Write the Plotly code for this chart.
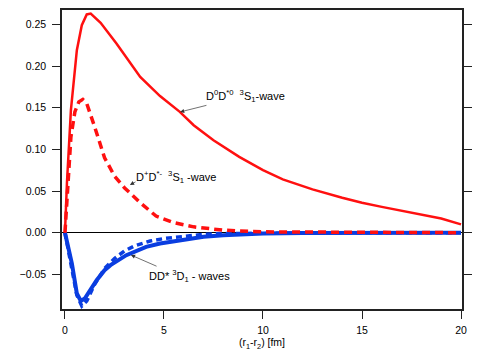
import plotly.graph_objects as go

# D0 D*0 3S1-wave (red solid)
r_s0 = [0, 0.1, 0.3, 0.6, 0.85, 1.1, 1.3, 1.8, 2.6, 3.8, 4.8, 5.8, 6.5, 7.5, 8.8,
        10, 11, 12.5, 14, 15, 16, 17.5, 19, 20]
psi_s0 = [0, 0.06, 0.147, 0.219, 0.249, 0.262, 0.263, 0.252, 0.227, 0.187, 0.164,
          0.145, 0.129, 0.111, 0.091, 0.075, 0.064, 0.052, 0.042, 0.036, 0.031,
          0.024, 0.017, 0.010]

# D+ D*- 3S1-wave (red dashed)
r_sc = [0, 0.15, 0.3, 0.5, 0.7, 0.9, 1.1, 1.5, 2.0, 2.5, 3.0, 3.8, 4.6, 5.5, 6.5,
        8, 10, 20]
psi_sc = [0, 0.06, 0.115, 0.145, 0.157, 0.160, 0.155, 0.127, 0.090, 0.068, 0.054,
          0.036, 0.020, 0.012, 0.007, 0.003, 0.001, 0]

# DD* 3D1 waves (blue solid / blue dashed)
r_d0 = [0, 0.2, 0.35, 0.6, 0.8, 1.0, 1.3, 1.6, 2.0, 2.3, 3.1, 4.1, 4.8, 6, 7, 8,
        10, 12, 15, 20]
psi_d0 = [0, -0.022, -0.037, -0.073, -0.082, -0.079, -0.068, -0.057, -0.045,
          -0.039, -0.027, -0.017, -0.013, -0.008, -0.005, -0.003, -0.001, -0.0005,
          0, 0]
r_dc = [0, 0.2, 0.4, 0.6, 0.85, 1.1, 1.5, 2.0, 2.5, 3.0, 3.5, 4.3, 5, 6, 7, 8, 10,
        12, 15, 20]
psi_dc = [0, -0.025, -0.052, -0.075, -0.088, -0.082, -0.062, -0.043, -0.031,
          -0.022, -0.016, -0.010, -0.007, -0.004, -0.002, -0.001, -0.0005, 0, 0, 0]

x_ticks = [0, 5, 10, 15, 20]
y_ticks = [-0.05, 0.0, 0.05, 0.10, 0.15, 0.20, 0.25]

RED = '#ff1010'
BLUE = '#0a3de0'
FONT = 'Liberation Sans, Arial, sans-serif'

fig = go.Figure()
fig.add_scatter(x=r_d0, y=psi_d0, mode='lines',
                line=dict(color=BLUE, width=4))
fig.add_scatter(x=r_dc, y=psi_dc, mode='lines',
                line=dict(color=BLUE, width=3.5, dash='6px,4px'))
fig.add_scatter(x=r_s0, y=psi_s0, mode='lines',
                line=dict(color=RED, width=2.5))
fig.add_scatter(x=r_sc, y=psi_sc, mode='lines',
                line=dict(color=RED, width=3.5, dash='8px,5px'))

# labels
labels = [
    (7.0, 0.164, 'D<sup>0</sup>D<sup>*0</sup>  <sup>3</sup>S<sub>1</sub>-wave'),
    (3.5, 0.0669, 'D<sup>+</sup>D<sup>*-</sup>  <sup>3</sup>S<sub>1</sub> -wave'),
    (4.15, -0.052, 'DD* <sup>3</sup>D<sub>1</sub> - waves'),
]
for lx, ly, txt in labels:
    fig.add_annotation(x=lx, y=ly, text=txt, showarrow=False,
                       xanchor='left', yanchor='middle',
                       font=dict(size=11, color='black', family=FONT))

# arrows (head, tail)
arrows = [
    ((5.81, 0.1449), (7.22, 0.1533)),
    ((3.28, 0.0573), (3.64, 0.0620)),
    ((3.33, -0.0268), (4.70, -0.0410)),
]
for (hx, hy), (tx, ty) in arrows:
    fig.add_annotation(x=hx, y=hy, ax=tx, ay=ty, axref='x', ayref='y',
                       text='', showarrow=True, arrowhead=2, arrowsize=1.2,
                       arrowwidth=0.7, arrowcolor='#333333')

axis_common = dict(showline=True, linecolor='#222222', linewidth=1.5,
                   mirror='allticks', ticks='outside', ticklen=8,
                   tickcolor='#222222', tickwidth=1.2, showgrid=False,
                   automargin=False,
                   tickfont=dict(size=10.5, color='black', family=FONT))

# page body adds an 8px offset (left/top), so the figure is sized 8px smaller
fig.update_layout(
    width=480, height=343,
    margin=dict(l=54, r=26, t=2, b=42),
    plot_bgcolor='white', paper_bgcolor='white',
    showlegend=False,
    xaxis=dict(range=[-0.15, 20.05], tickvals=x_ticks,
               zeroline=False, ticklabelstandoff=3,
               title=dict(text='(r<sub>1</sub>-r<sub>2</sub>) [fm]', standoff=0,
                          font=dict(size=10.5, color='black', family=FONT)),
               **axis_common),
    yaxis=dict(range=[-0.0916, 0.2673], tickvals=y_ticks, tickformat='.2f',
               zeroline=True, zerolinecolor='black', zerolinewidth=1,
               ticklabelstandoff=4,
               **axis_common),
)

fig.write_html('out.html')
